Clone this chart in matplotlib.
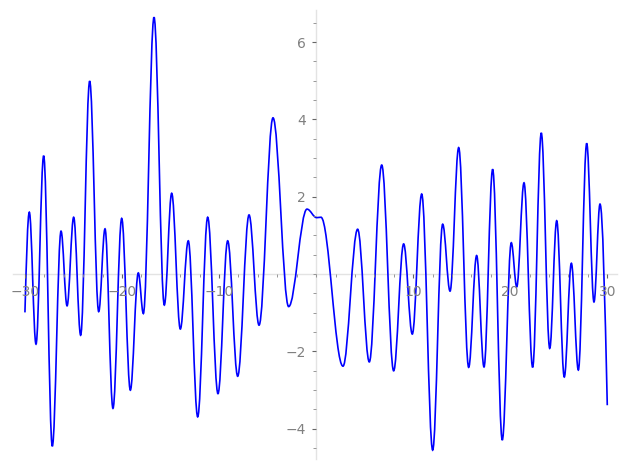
# Curva oscilante estilo Sage: se dibuja uniendo los extremos
import matplotlib
matplotlib.use('Agg')
import matplotlib.pyplot as plt
from matplotlib.path import Path
from matplotlib.patches import PathPatch
from matplotlib.ticker import MultipleLocator

# puntos (inicio, maximos/minimos locales, final)
x_pts = [-30.0, -29.55, -28.86, -28.07, -27.18, -26.28, -25.66, -24.98, -24.26,
         -23.33, -22.40, -21.75, -20.93, -20.03, -19.14, -18.32, -17.80, -16.70,
         -15.64, -14.88, -13.99, -13.17, -12.20, -11.17, -10.11, -9.11, -8.08,
         -6.91, -5.88, -4.44, -2.83, -0.94, 0.06, 0.50, 2.77, 4.28, 5.48, 6.76,
         7.99, 9.02, 9.91, 10.88, 12.01, 13.04, 13.80, 14.69, 15.72, 16.54,
         17.30, 18.19, 19.18, 20.11, 20.67, 21.42, 22.31, 23.20, 24.07, 24.79,
         25.57, 26.30, 27.02, 27.88, 28.63, 29.25, 30.0]
y_pts = [-0.99, 1.60, -1.81, 3.06, -4.45, 1.11, -0.82, 1.47, -1.58,
         4.99, -0.97, 1.17, -3.47, 1.44, -3.00, 0.03, -1.02, 6.64,
         -0.80, 2.09, -1.42, 0.86, -3.69, 1.47, -3.09, 0.86, -2.64,
         1.53, -1.32, 4.04, -0.84, 1.68, 1.46, 1.47, -2.38, 1.16, -2.27, 2.82,
         -2.50, 0.78, -1.55, 2.07, -4.55, 1.29, -0.44, 3.27, -2.41, 0.48,
         -2.40, 2.71, -4.29, 0.81, -0.33, 2.36, -2.41, 3.65, -1.92, 1.38,
         -2.66, 0.28, -2.48, 3.38, -0.72, 1.81, -3.39]

# tramos bezier con tangente horizontal en cada extremo
K = 0.3634
verts = [(x_pts[0], y_pts[0])]
codes = [Path.MOVETO]
n = len(x_pts)
for i in range(n - 1):
    x0, y0 = x_pts[i], y_pts[i]
    x1, y1 = x_pts[i + 1], y_pts[i + 1]
    h = x1 - x0
    if i == 0:
        c1 = (x0 + h / 3, y0 + 0.52 * (y1 - y0))
    else:
        c1 = (x0 + K * h, y0)
    if i == n - 2:
        c2 = (x1 - h / 3, y1 + 0.52 * (y0 - y1))
    else:
        c2 = (x1 - K * h, y1)
    verts += [c1, c2, (x1, y1)]
    codes += [Path.CURVE4] * 3

fig = plt.figure(figsize=(6.27, 4.69), dpi=100)
ax = fig.add_axes([0.0212, 0.0213, 0.9636, 0.9584])

ax.add_patch(PathPatch(Path(verts, codes), fill=False, edgecolor='#0000ff', lw=1.2))

ax.set_xlim(-31.2, 31.05)
ax.set_ylim(-4.78, 6.84)

# ejes en el origen, estilo sage
for s in ['top', 'right']:
    ax.spines[s].set_visible(False)
for s in ['left', 'bottom']:
    ax.spines[s].set_position(('data', 0))
    ax.spines[s].set_color('#e3e3e3')
    ax.spines[s].set_linewidth(1.0)
    ax.spines[s].set_zorder(0)

ax.set_xticks([-30, -20, -10, 10, 20, 30])
ax.set_yticks([-4, -2, 2, 4, 6])
ax.xaxis.set_minor_locator(MultipleLocator(2))
ax.yaxis.set_minor_locator(MultipleLocator(0.5))
ax.tick_params(which='major', length=3, width=0.8, color='#666666',
               labelcolor='#808080', labelsize=10, pad=4.5)
ax.tick_params(which='minor', length=2, width=0.6, color='#888888')

fig.savefig('out.png', dpi=100)
